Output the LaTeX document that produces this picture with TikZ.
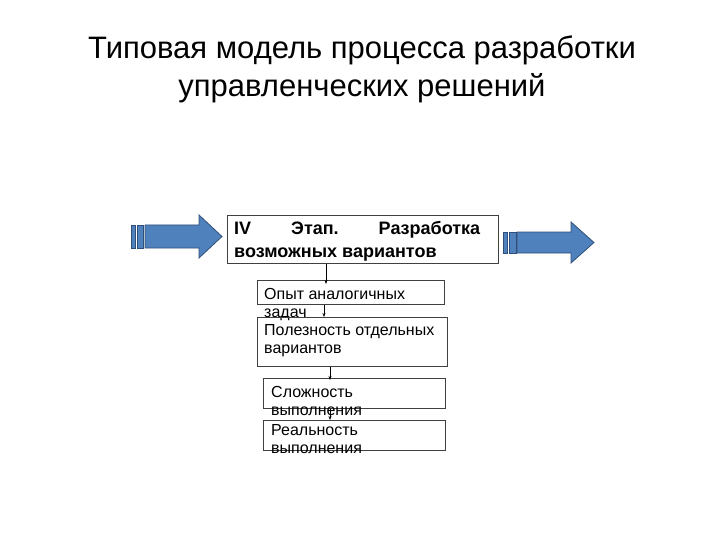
\documentclass[tikz,border=0pt]{standalone}
\usepackage{fontspec}
\setmainfont{Liberation Sans}
\usetikzlibrary{arrows.meta}
\definecolor{arrfill}{HTML}{4F81BD}
\definecolor{arrline}{HTML}{2F4F7A}
\begin{document}
\begin{tikzpicture}[x=1pt,y=-1pt,
  box/.style={draw=black!75, line width=0.9pt, minimum width=#1, inner sep=0pt, anchor=north west},
  txt/.style={anchor=base west, inner sep=0pt, align=left, font=\fontsize{16}{18}\selectfont},
  blk/.style={fill=arrfill, draw=arrline, line width=0.8pt},
  arr/.style={-{Stealth[length=4pt,width=3pt]}, line width=0.6pt, black}]
\useasboundingbox (0,0) rectangle (720,540);
% title
\node[font=\fontsize{31}{38}\selectfont, align=center, anchor=base, inner sep=0pt] (title) at (362,97)
  {Типовая модель процесса разработки\\управленческих решений};
% main box
\node[box=271pt, minimum height=48pt] (main) at (227,215) {};
\node[anchor=base west, inner sep=0pt, align=left, font=\fontsize{18}{22}\bfseries\selectfont] (maintxt) at (234,257)
  {\makebox[246pt][l]{IV\hfill Этап.\hfill Разработка}\\возможных вариантов};
% left block arrow
\path[blk] (131,225) rectangle (135,248);
\path[blk] (137,225) rectangle (143,248);
\path[blk] (145,225) -- (199,225) -- (199,215) -- (222,236.5) -- (199,258) -- (199,248) -- (145,248) -- cycle;
% right block arrow
\path[blk] (503,232) rectangle (507,253);
\path[blk] (509,232) rectangle (516,253);
\path[blk] (517,232) -- (571,232) -- (571,222) -- (594,242.5) -- (571,263) -- (571,253) -- (517,253) -- cycle;
% small boxes
\node[box=187pt, minimum height=24pt] (b1) at (257,280) {};
\node[txt] (t1) at (264,317) {Опыт аналогичных\\задач};
\node[box=190pt, minimum height=49pt] (b2) at (257,317) {};
\node[txt] (t2) at (264,353) {Полезность отдельных\\вариантов};
\node[box=182pt, minimum height=30pt] (b3) at (263,378) {};
\node[txt] (t3) at (271,415) {Сложность\\выполнения};
\node[box=182pt, minimum height=30pt] (b4) at (263,420) {};
\node[txt] (t4) at (271,453) {Реальность\\выполнения};
% connectors
\coordinate (c1) at (326,0);
\coordinate (c2) at (324,0);
\coordinate (c3) at (330,0);
\draw[arr] (main.south -| c1) -- ([yshift=-4pt]b1.north -| c1);
\draw[arr] (b1.south -| c2) -- (b2.north -| c2);
\draw[arr] (b2.south -| c3) -- ([yshift=-2pt]b3.north -| c3);
\draw[arr] (b3.south -| c3) -- (b4.north -| c3);
\end{tikzpicture}
\end{document}
